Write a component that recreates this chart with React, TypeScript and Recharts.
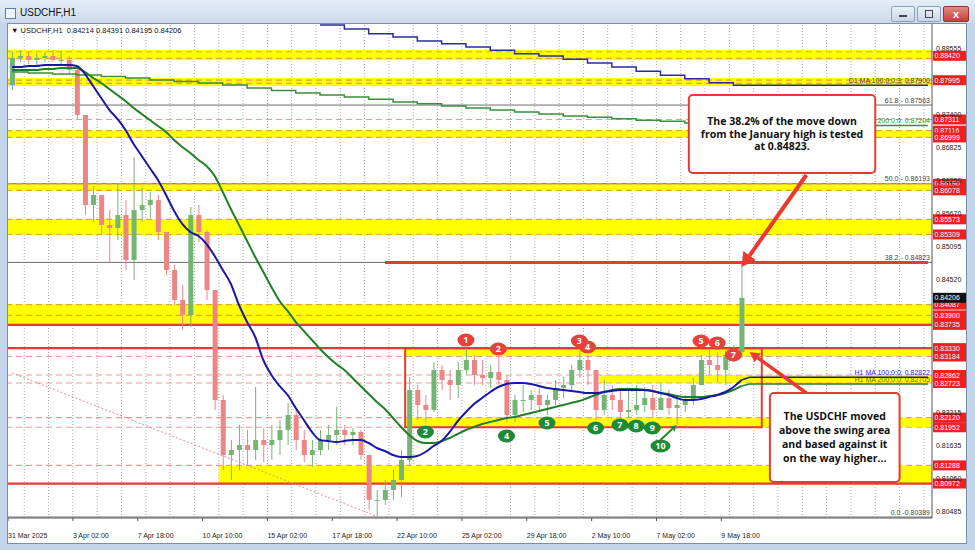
import React from "react";
import {
  Bar,
  ComposedChart,
  Line,
  ReferenceArea,
  ReferenceDot,
  ReferenceLine,
  XAxis,
  YAxis,
} from "recharts";

const FONT = "'Liberation Sans', Arial, sans-serif";
const NOTE_FONT = "'Open Sans', 'Liberation Sans', sans-serif";

// one slot = 8 H1 bars, the axis keeps room on the right like the MT4 shift
const SLOTS = 114;
const Y_MIN = 0.80372;
const Y_MAX = 0.88974;

const DATE_TICKS = [0, 8, 16, 24, 32, 40, 48, 56, 64, 72, 80, 88];
const DATE_LABELS = [
  "31 Mar 2025", "3 Apr 02:00", "7 Apr 18:00", "10 Apr 10:00", "15 Apr 02:00", "17 Apr 18:00",
  "22 Apr 10:00", "25 Apr 02:00", "29 Apr 18:00", "2 May 10:00", "7 May 02:00", "9 May 18:00",
];
const PRICE_TICKS = [
  0.88555, 0.874, 0.86825, 0.8625, 0.8567, 0.85095, 0.8452, 0.82215, 0.81635, 0.8106, 0.80485,
];

const FIRST_OPEN = 0.87912;
const HIGH = [
  0.88487, 0.88521, 0.88487, 0.88469, 0.88487, 0.88521, 0.88504, 0.88417, 0.88225, 0.8739,
  0.86153, 0.85997, 0.85735, 0.86205, 0.85909, 0.86658, 0.86118, 0.86049, 0.85997, 0.853,
  0.84778, 0.84429, 0.85788, 0.85822, 0.85387, 0.84342, 0.82514, 0.8173, 0.81992, 0.81904,
  0.82653, 0.81939, 0.81992, 0.82079, 0.82375, 0.82253, 0.81904, 0.8173, 0.81904, 0.81992,
  0.82305, 0.81992, 0.81939, 0.81904, 0.81469, 0.8086, 0.81034, 0.81208, 0.81556, 0.82827,
  0.82688, 0.82514, 0.83089, 0.83036, 0.82949, 0.83089, 0.83297, 0.8321, 0.83123, 0.83036,
  0.83176, 0.82862, 0.82514, 0.82688, 0.82601, 0.82688, 0.82514, 0.82775, 0.82827, 0.83036,
  0.83297, 0.8321, 0.82949, 0.82775, 0.82688, 0.82601, 0.82636, 0.82688, 0.82653, 0.82688,
  0.82723, 0.82601, 0.82514, 0.82514, 0.8281, 0.8321, 0.83297, 0.83263, 0.83297, 0.83385,
  0.84823,
];
const LOW = [
  0.87825, 0.88312, 0.88278, 0.88243, 0.88312, 0.88312, 0.88243, 0.88086, 0.87302, 0.85648,
  0.85526, 0.853, 0.84812, 0.85213, 0.84691, 0.84516, 0.85526, 0.85596, 0.85213, 0.84603,
  0.84081, 0.83646, 0.83698, 0.85178, 0.84168, 0.82253, 0.81208, 0.81034, 0.81208, 0.81295,
  0.81382, 0.81347, 0.81382, 0.81469, 0.81643, 0.81556, 0.81347, 0.8126, 0.81469, 0.81556,
  0.81643, 0.81643, 0.81643, 0.81382, 0.80511, 0.80389, 0.80598, 0.80686, 0.80738, 0.81295,
  0.82079, 0.82044, 0.82218, 0.82601, 0.82427, 0.82462, 0.82862, 0.82688, 0.82688, 0.82636,
  0.82688, 0.82044, 0.82044, 0.82218, 0.82253, 0.82218, 0.82166, 0.8234, 0.82462, 0.82566,
  0.8281, 0.82688, 0.82079, 0.82166, 0.82253, 0.82113, 0.82113, 0.82166, 0.82218, 0.82113,
  0.82253, 0.82166, 0.81992, 0.82218, 0.8234, 0.82688, 0.82862, 0.8274, 0.82688, 0.83089,
  0.83158,
];
const CLOSE = [
  0.88382, 0.88417, 0.88347, 0.88382, 0.88417, 0.88347, 0.88347, 0.88173, 0.8739, 0.85822,
  0.85997, 0.85474, 0.85422, 0.85648, 0.84865, 0.85735, 0.85822, 0.85909, 0.85352, 0.84691,
  0.84168, 0.83907, 0.85648, 0.85352, 0.84342, 0.82427, 0.81469, 0.81556, 0.81643, 0.81556,
  0.8173, 0.81643, 0.8173, 0.81904, 0.82166, 0.8173, 0.81469, 0.81556, 0.8173, 0.81817,
  0.81904, 0.81817, 0.8187, 0.81469, 0.80686, 0.80686, 0.8086, 0.81034, 0.81382, 0.82601,
  0.8234, 0.82253, 0.82949, 0.82775, 0.82688, 0.82949, 0.83123, 0.82862, 0.8281, 0.82914,
  0.82775, 0.82166, 0.82427, 0.82427, 0.82514, 0.8234, 0.82427, 0.82636, 0.82688, 0.82949,
  0.83123, 0.82949, 0.82253, 0.82514, 0.82427, 0.82218, 0.82253, 0.8234, 0.82462, 0.82253,
  0.82462, 0.82288, 0.8234, 0.82427, 0.82688, 0.83123, 0.83036, 0.82949, 0.8321, 0.83263,
  0.84206,
];
const MA100 = [
  0.88225, 0.88225, 0.88243, 0.88243, 0.8826, 0.8826, 0.8826, 0.8826, 0.88243, 0.88103,
  0.87895, 0.87686, 0.87477, 0.8732, 0.87128, 0.86885, 0.86676, 0.86467, 0.86258, 0.85997,
  0.85718, 0.85492, 0.85352, 0.85283, 0.85143, 0.84934, 0.84691, 0.84447, 0.84081, 0.83785,
  0.83524, 0.83123, 0.82862, 0.82671, 0.82514, 0.82288, 0.82079, 0.8187, 0.8173, 0.81713,
  0.81696, 0.81713, 0.8173, 0.8173, 0.81678, 0.81591, 0.81539, 0.81469, 0.81434, 0.81434,
  0.81452, 0.81521, 0.81626, 0.81713, 0.8187, 0.82061, 0.82218, 0.82357, 0.82462, 0.82566,
  0.82653, 0.82705, 0.82723, 0.82723, 0.82705, 0.82671, 0.82636, 0.82618, 0.82601, 0.82584,
  0.82566, 0.82549, 0.82549, 0.82566, 0.82584, 0.82601, 0.82601, 0.82601, 0.82601, 0.82584,
  0.82549, 0.82514, 0.82462, 0.82427, 0.82427, 0.82444, 0.82479, 0.82514, 0.82566, 0.82653,
  0.82775,
];
const MA200 = [
  0.88173, 0.88173, 0.88173, 0.88173, 0.88191, 0.88191, 0.88208, 0.88208, 0.88208, 0.88138,
  0.88034, 0.87947, 0.87842, 0.87738, 0.87633, 0.87511, 0.87407, 0.87302, 0.87198, 0.87094,
  0.86954, 0.86832, 0.86728, 0.86606, 0.86501, 0.86327, 0.86049, 0.85753, 0.85474, 0.85196,
  0.84917, 0.84656, 0.84395, 0.84151, 0.83977, 0.83785, 0.83628, 0.83472, 0.83315, 0.83176,
  0.83054, 0.82949, 0.8281, 0.82671, 0.82531, 0.82392, 0.8227, 0.82113, 0.81957, 0.81817,
  0.81713, 0.81678, 0.81678, 0.81713, 0.81765, 0.81835, 0.81904, 0.81957, 0.82009, 0.82044,
  0.82079, 0.82113, 0.82131, 0.82166, 0.822, 0.82235, 0.8227, 0.82305, 0.8234, 0.82375,
  0.82409, 0.82462, 0.82514, 0.82566, 0.82601, 0.82618, 0.82618, 0.82618, 0.82601, 0.82584,
  0.82549, 0.82531, 0.82497, 0.82479, 0.82479, 0.82479, 0.82497, 0.82514, 0.82549, 0.82601,
  0.82671,
];
const MA100_NOW = 0.82822;
const MA200_NOW = 0.82705;

// daily MAs, one value per day (first entry = partial day at the left edge)
const D1_MA100 = [
  null, null, null, null, null, null, null, null, null, null, null, null, null,
  0.88957, 0.88887, 0.88805, 0.88748, 0.88678, 0.88631, 0.88574, 0.88516, 0.88457, 0.88417,
  0.88359, 0.88295, 0.88225, 0.88151, 0.88081, 0.88022, 0.87952, 0.87907,
  0.87907, 0.87907, 0.87907, 0.87907, 0.87907, 0.87907, 0.87907, 0.87907,
];
const D1_MA200 = [
  0.88138, 0.88121, 0.88103, 0.88086, 0.8806, 0.88034, 0.87999, 0.87973, 0.87947, 0.87912,
  0.8786, 0.87816, 0.87773, 0.87738, 0.87703, 0.87663, 0.87616, 0.87586, 0.87546, 0.87511,
  0.87477, 0.87442, 0.87407, 0.87372, 0.8735, 0.87325, 0.87297, 0.8728, 0.8725, 0.87224,
  0.87205, 0.87205, 0.87205, 0.87205, 0.87205, 0.87205, 0.87205, 0.87205, 0.87205,
];

// yellow zones: low, high, first slot (null = full width)
const ZONE_LO = [0.88346, 0.87894, 0.8699, 0.8607, 0.853, 0.83735, 0.83184, 0.82723, 0.81952, 0.80972];
const ZONE_HI = [0.8852, 0.88033, 0.87125, 0.862, 0.8558, 0.84095, 0.8333, 0.82862, 0.8212, 0.81288];
const ZONE_FROM = [null, null, null, null, null, null, 49, 73, 49, 26];

const ORANGE_DASH = [0.88491, 0.88376, 0.87998, 0.8794, 0.87116, 0.86999, 0.8619, 0.86078, 0.85573, 0.85309, 0.84087, 0.839];
const PINK_DASH = [0.87311, 0.83184, 0.82862, 0.82723, 0.8212, 0.81952, 0.81288];
const RED_SOLID = [0.83735, 0.8333, 0.80972];
const FIB_LEVELS = [0.87563, 0.86193, 0.84823, 0.80389];
const FIB_NAMES = ["61.8 - 0.87563", "50.0 - 0.86193", "38.2 - 0.84823", "0.0 -0.80389"];
const RED_TAGS = [
  0.8842, 0.87995, 0.87311, 0.87116, 0.86999, 0.8619, 0.86078, 0.85573, 0.85309, 0.84087,
  0.839, 0.83735, 0.8333, 0.83184, 0.82862, 0.82723, 0.8212, 0.81952, 0.81288, 0.80972,
];
const LAST_BAR = [0.84214, 0.84391, 0.84195, 0.84206];

const RED_BADGES = ["1", "2", "3", "4", "5", "6", "7"];
const RED_BADGE_SLOT = [56, 60, 70, 71, 85, 87, 89];
const RED_BADGE_PRICE = [0.83471, 0.83315, 0.83454, 0.8335, 0.83454, 0.83419, 0.8321];
const GREEN_BADGES = ["2", "4", "5", "6", "7", "8", "9", "10"];
const GREEN_BADGE_SLOT = [51, 61, 66, 72, 75, 77, 79, 80];
const GREEN_BADGE_PRICE = [0.8187, 0.818, 0.82026, 0.81939, 0.81992, 0.81974, 0.81939, 0.81626];

const NOTE_1 = ["The 38.2% of the move down", "from the January high is tested", "at 0.84823."];
const NOTE_2 = ["The USDCHF moved", "above the swing area", "and based against it", "on the way higher..."];

const UP = "#74b574";
const DOWN = "#ec8585";
const RED = "#ea3a30";

const data = Array.from({ length: SLOTS }, (_, i) => {
  const day = i < 2 ? 0 : Math.floor((i - 2) / 3) + 1;
  const has = i < CLOSE.length;
  const last = CLOSE.length - 1;
  return {
    i,
    range: has ? [LOW[i], HIGH[i]] : null,
    open: has ? (i === 0 ? FIRST_OPEN : CLOSE[i - 1]) : null,
    close: has ? CLOSE[i] : null,
    ma100: has ? MA100[i] : null,
    ma200: has ? MA200[i] : null,
    ma100Now: i === last ? MA100[last] : i > last ? MA100_NOW : null,
    ma200Now: i === last ? MA200[last] : i > last ? MA200_NOW : null,
    d1ma100: D1_MA100[day],
    d1ma200: D1_MA200[day],
  };
});

function Candle(props: any) {
  const { x, y, width, height, payload } = props;
  if (!payload || payload.range == null || x == null) return null;
  const [lo, hi] = payload.range;
  const top = Math.min(y, y + height);
  const h = Math.abs(height);
  const py = (v: number) => top + ((hi - v) / (hi - lo || 1e-9)) * h;
  const up = payload.close >= payload.open;
  const color = up ? UP : DOWN;
  const cx = x + width / 2;
  const b1 = py(Math.max(payload.open, payload.close));
  const b2 = py(Math.min(payload.open, payload.close));
  return (
    <g>
      <line x1={cx} x2={cx} y1={top} y2={top + h} stroke={color} strokeWidth={1} />
      <rect x={x} y={b1} width={width} height={Math.max(1, b2 - b1)} fill={color} />
    </g>
  );
}

function Tag({ viewBox, text, bg }: any) {
  if (!viewBox) return null;
  const x = viewBox.x + viewBox.width + 1;
  const y = viewBox.y;
  return (
    <g>
      <rect x={x} y={y - 5} width={33} height={10} fill={bg} />
      <text x={x + 1.5} y={y + 2.6} fontSize={7} fill="#fff" fontFamily={FONT}>
        {text}
      </text>
    </g>
  );
}

function LineNote({ viewBox, text, color }: any) {
  if (!viewBox) return null;
  return (
    <text x={viewBox.x + viewBox.width - 2} y={viewBox.y - 2.5} textAnchor="end" fontSize={7} fill={color} fontFamily={FONT}>
      {text}
    </text>
  );
}

function Arrow(props: any) {
  const { x1, y1, x2, y2, stroke, strokeWidth, head } = props;
  if (x1 == null) return null;
  const len = Math.hypot(x2 - x1, y2 - y1) || 1;
  const ux = (x2 - x1) / len;
  const uy = (y2 - y1) / len;
  const bx = x2 - ux * head;
  const by = y2 - uy * head;
  const w = head * 0.55;
  return (
    <g>
      <line x1={x1} y1={y1} x2={bx} y2={by} stroke={stroke} strokeWidth={strokeWidth} />
      <polygon points={`${x2},${y2} ${bx - uy * w},${by + ux * w} ${bx + uy * w},${by - ux * w}`} fill={stroke} />
    </g>
  );
}

function NoteBox({ x, y, width, height, lines, lineHeight }: any) {
  if (x == null) return null;
  const cy = y + height / 2;
  const start = cy - ((lines.length - 1) * lineHeight) / 2;
  return (
    <g>
      <rect x={x} y={y} width={width} height={height} rx={4} fill="#fff" stroke={RED} strokeWidth={2} />
      {lines.map((t: string, k: number) => (
        <text
          key={k}
          x={x + width / 2}
          y={start + k * lineHeight + 3.8}
          textAnchor="middle"
          fontSize={10.5}
          fontWeight={700}
          fontFamily={NOTE_FONT}
          fill="#111"
        >
          {t}
        </text>
      ))}
    </g>
  );
}

function Badge({ cx, cy, label, fill }: any) {
  if (cx == null) return null;
  return (
    <g>
      <ellipse cx={cx} cy={cy} rx={label.length > 1 ? 10 : 8.5} ry={6.5} fill={fill} />
      <text x={cx} y={cy + 3.3} textAnchor="middle" fontSize={9} fontWeight={700} fill="#fff" fontFamily={NOTE_FONT}>
        {label}
      </text>
    </g>
  );
}

function DateTick({ x, y, payload }: any) {
  const k = DATE_TICKS.indexOf(payload.value);
  if (k < 0) return null;
  return (
    <g>
      <line x1={x - 4} x2={x - 4} y1={y} y2={y + 3} stroke="#555" />
      <text x={x - 4} y={y + 19.5} fontSize={7} fill="#222" fontFamily={FONT}>
        {DATE_LABELS[k]}
      </text>
    </g>
  );
}

const dayGrid = Array.from({ length: 38 }, (_, n) => 1 + 3 * n);

export default function App() {
  return (
    <div
      style={{
        position: "absolute",
        left: 0,
        top: 0,
        width: 975,
        height: 550,
        background: "#c3d5ea",
        fontFamily: FONT,
        overflow: "hidden",
      }}
    >
      {/* MT4 window title bar */}
      <div
        style={{
          position: "absolute",
          left: 0,
          top: 0,
          width: 975,
          height: 23,
          background: "linear-gradient(#e4edf8, #cbdaec)",
        }}
      />
      <div
        style={{
          position: "absolute",
          left: 5,
          top: 8,
          width: 9,
          height: 9,
          border: "1px solid #5a7fb0",
          background: "#eef4fb",
        }}
      />
      <div style={{ position: "absolute", left: 20, top: 7, fontSize: 10, color: "#111" }}>USDCHF,H1</div>
      <div
        style={{
          position: "absolute",
          left: 891,
          top: 6,
          width: 22,
          height: 14,
          borderRadius: 2,
          border: "1px solid #8c9fb8",
          background: "linear-gradient(#eaf1f9, #c9d7e8)",
        }}
      >
        <div style={{ position: "absolute", left: 7, top: 8, width: 8, height: 2, background: "#445" }} />
      </div>
      <div
        style={{
          position: "absolute",
          left: 917,
          top: 6,
          width: 22,
          height: 14,
          borderRadius: 2,
          border: "1px solid #8c9fb8",
          background: "linear-gradient(#eaf1f9, #c9d7e8)",
        }}
      >
        <div style={{ position: "absolute", left: 7, top: 3, width: 6, height: 6, border: "1px solid #445" }} />
      </div>
      <div
        style={{
          position: "absolute",
          left: 943,
          top: 6,
          width: 24,
          height: 14,
          borderRadius: 2,
          border: "1px solid #8a3a33",
          background: "linear-gradient(#e08a80, #c4413a)",
          color: "#fff",
          fontSize: 11,
          fontWeight: 700,
          textAlign: "center",
          lineHeight: "14px",
        }}
      >
        x
      </div>

      {/* chart canvas */}
      <div
        style={{
          position: "absolute",
          left: 7,
          top: 23,
          width: 958,
          height: 519,
          border: "1px solid #7d8fa6",
          background: "#fff",
        }}
      >
        <ComposedChart width={958} height={519} data={data} margin={{ top: 0, right: 0, bottom: 0, left: 0 }}>
          <XAxis
            dataKey="i"
            type="category"
            ticks={DATE_TICKS}
            interval={0}
            tick={<DateTick />}
            tickLine={false}
            tickSize={0}
            tickMargin={0}
            axisLine={{ stroke: "#555" }}
            height={25}
          />
          <YAxis
            orientation="right"
            type="number"
            domain={[Y_MIN, Y_MAX]}
            allowDataOverflow
            ticks={PRICE_TICKS}
            tickFormatter={(v) => Number(v).toFixed(5)}
            tick={{ fontSize: 7, fill: "#222", fontFamily: FONT }}
            tickLine={false}
            tickSize={0}
            tickMargin={4}
            axisLine={{ stroke: "#555" }}
            width={34}
          />

          {dayGrid.map((s) => (
            <ReferenceLine key={`g${s}`} x={s} position="end" stroke="#a9a9a9" strokeDasharray="1 2" zIndex={50} />
          ))}

          {ZONE_LO.map((lo, k) => (
            <ReferenceArea
              key={`z${k}`}
              y1={lo}
              y2={ZONE_HI[k]}
              {...(ZONE_FROM[k] != null ? { x1: ZONE_FROM[k], x2: SLOTS - 1 } : {})}
              fill="#ffff00"
              fillOpacity={1}
              stroke="none"
              zIndex={100}
            />
          ))}

          {FIB_LEVELS.map((v, k) => (
            <ReferenceLine
              key={`f${k}`}
              y={v}
              stroke="#6e6e6e"
              strokeWidth={1}
              ifOverflow="visible"
              zIndex={150}
              label={<LineNote text={FIB_NAMES[k]} color="#444" />}
            />
          ))}
          {ORANGE_DASH.map((v) => (
            <ReferenceLine key={`o${v}`} y={v} stroke="#e3a63a" strokeWidth={1.2} strokeDasharray="6 4" zIndex={150} />
          ))}
          {PINK_DASH.map((v) => (
            <ReferenceLine key={`p${v}`} y={v} stroke="#eb9c96" strokeWidth={1.2} strokeDasharray="6 4" zIndex={150} />
          ))}
          {RED_SOLID.map((v) => (
            <ReferenceLine key={`r${v}`} y={v} stroke={RED} strokeWidth={2.2} zIndex={150} />
          ))}
          <ReferenceLine
            segment={[{ x: 46, y: 0.84823 }, { x: SLOTS - 1, y: 0.84823 }]}
            stroke={RED}
            strokeWidth={3}
            zIndex={150}
          />
          <ReferenceLine
            segment={[{ x: 0, y: 0.82897 }, { x: 45, y: 0.804 }]}
            stroke="#e48c8c"
            strokeWidth={1}
            strokeDasharray="2 2"
            zIndex={150}
          />
          <ReferenceArea
            x1={49}
            x2={92}
            y1={0.81952}
            y2={0.8333}
            fill="none"
            stroke={RED}
            strokeWidth={2}
            zIndex={160}
          />

          {RED_TAGS.map((v) => (
            <ReferenceLine
              key={`t${v}`}
              y={v}
              stroke="none"
              zIndex={160}
              label={<Tag text={v.toFixed(5)} bg="#ee2020" />}
            />
          ))}
          <ReferenceLine
            y={LAST_BAR[3]}
            stroke="none"
            zIndex={160}
            label={<Tag text={LAST_BAR[3].toFixed(5)} bg="#111" />}
          />

          <Line
            dataKey="d1ma100"
            type="stepAfter"
            stroke="#2a2aa8"
            strokeWidth={1.5}
            dot={false}
            isAnimationActive={false}
          />
          <Line dataKey="d1ma200" type="stepAfter" stroke="#3a8f3a" strokeWidth={1.5} dot={false} isAnimationActive={false} />
          <ReferenceLine
            y={D1_MA100[D1_MA100.length - 1] as number}
            stroke="none"
            zIndex={160}
            label={<LineNote text="D1 MA 100:0:0:3: 0.87900" color="#33337a" />}
          />
          <ReferenceLine
            y={D1_MA200[D1_MA200.length - 1]}
            stroke="none"
            zIndex={160}
            label={<LineNote text="D1 MA 200:0:0: 0.87204" color="#2f8a2f" />}
          />

          <Bar dataKey="range" barSize={5} shape={<Candle />} isAnimationActive={false} />

          <Line dataKey="ma200" type="monotone" stroke="#1f7f24" strokeWidth={2} dot={false} isAnimationActive={false} />
          <Line dataKey="ma100" type="monotone" stroke="#1818a8" strokeWidth={2} dot={false} isAnimationActive={false} />
          <Line dataKey="ma200Now" stroke="#1f7f24" strokeWidth={1.5} dot={false} isAnimationActive={false} />
          <Line dataKey="ma100Now" stroke="#1818a8" strokeWidth={1.5} dot={false} isAnimationActive={false} />
          <ReferenceLine
            y={MA100_NOW}
            stroke="none"
            zIndex={160}
            label={<LineNote text="H1 MA 100:0:0: 0.82822" color="#2a2ad0" />}
          />
          <ReferenceLine
            y={MA200_NOW}
            stroke="none"
            zIndex={160}
            label={<LineNote text="H1 MA 200:0:0: 0.82705" color="#2f8a2f" />}
          />

          <ReferenceLine
            segment={[{ x: 98, y: 0.86345 }, { x: 90, y: 0.84743 }]}
            stroke={RED}
            strokeWidth={4}
            zIndex={2050}
            shape={(p: any) => <Arrow {...p} head={14} />}
          />
          <ReferenceLine
            segment={[{ x: 98, y: 0.82548 }, { x: 91, y: 0.83263 }]}
            stroke={RED}
            strokeWidth={3.5}
            zIndex={2050}
            shape={(p: any) => <Arrow {...p} head={10} />}
          />
          <ReferenceLine
            segment={[{ x: 80, y: 0.8173 }, { x: 82, y: 0.81992 }]}
            stroke="#1d8a35"
            strokeWidth={2}
            zIndex={2050}
            shape={(p: any) => <Arrow {...p} head={6} />}
          />

          <ReferenceArea
            x1={84}
            x2={106}
            y1={0.86379}
            y2={0.87737}
            zIndex={2100}
            shape={(p: any) => <NoteBox {...p} lines={NOTE_1} lineHeight={12.4} />}
          />
          <ReferenceArea
            x1={94}
            x2={109}
            y1={0.80999}
            y2={0.82548}
            zIndex={2100}
            shape={(p: any) => <NoteBox {...p} lines={NOTE_2} lineHeight={14} />}
          />

          {RED_BADGES.map((t, k) => (
            <ReferenceDot
              key={`rb${k}`}
              x={RED_BADGE_SLOT[k]}
              y={RED_BADGE_PRICE[k]}
              r={7}
              zIndex={2200}
              shape={(p: any) => <Badge cx={p.cx} cy={p.cy} label={t} fill="#e8403a" />}
            />
          ))}
          {GREEN_BADGES.map((t, k) => (
            <ReferenceDot
              key={`gb${k}`}
              x={GREEN_BADGE_SLOT[k]}
              y={GREEN_BADGE_PRICE[k]}
              r={7}
              zIndex={2200}
              shape={(p: any) => <Badge cx={p.cx} cy={p.cy} label={t} fill="#1d8a35" />}
            />
          ))}
        </ComposedChart>
        <div style={{ position: "absolute", left: 3, top: 2, fontSize: 7.5, color: "#111", whiteSpace: "pre" }}>
          {`▼ USDCHF,H1  ${LAST_BAR.map((v) => v.toFixed(5)).join(" ")}`}
        </div>
      </div>
    </div>
  );
}
